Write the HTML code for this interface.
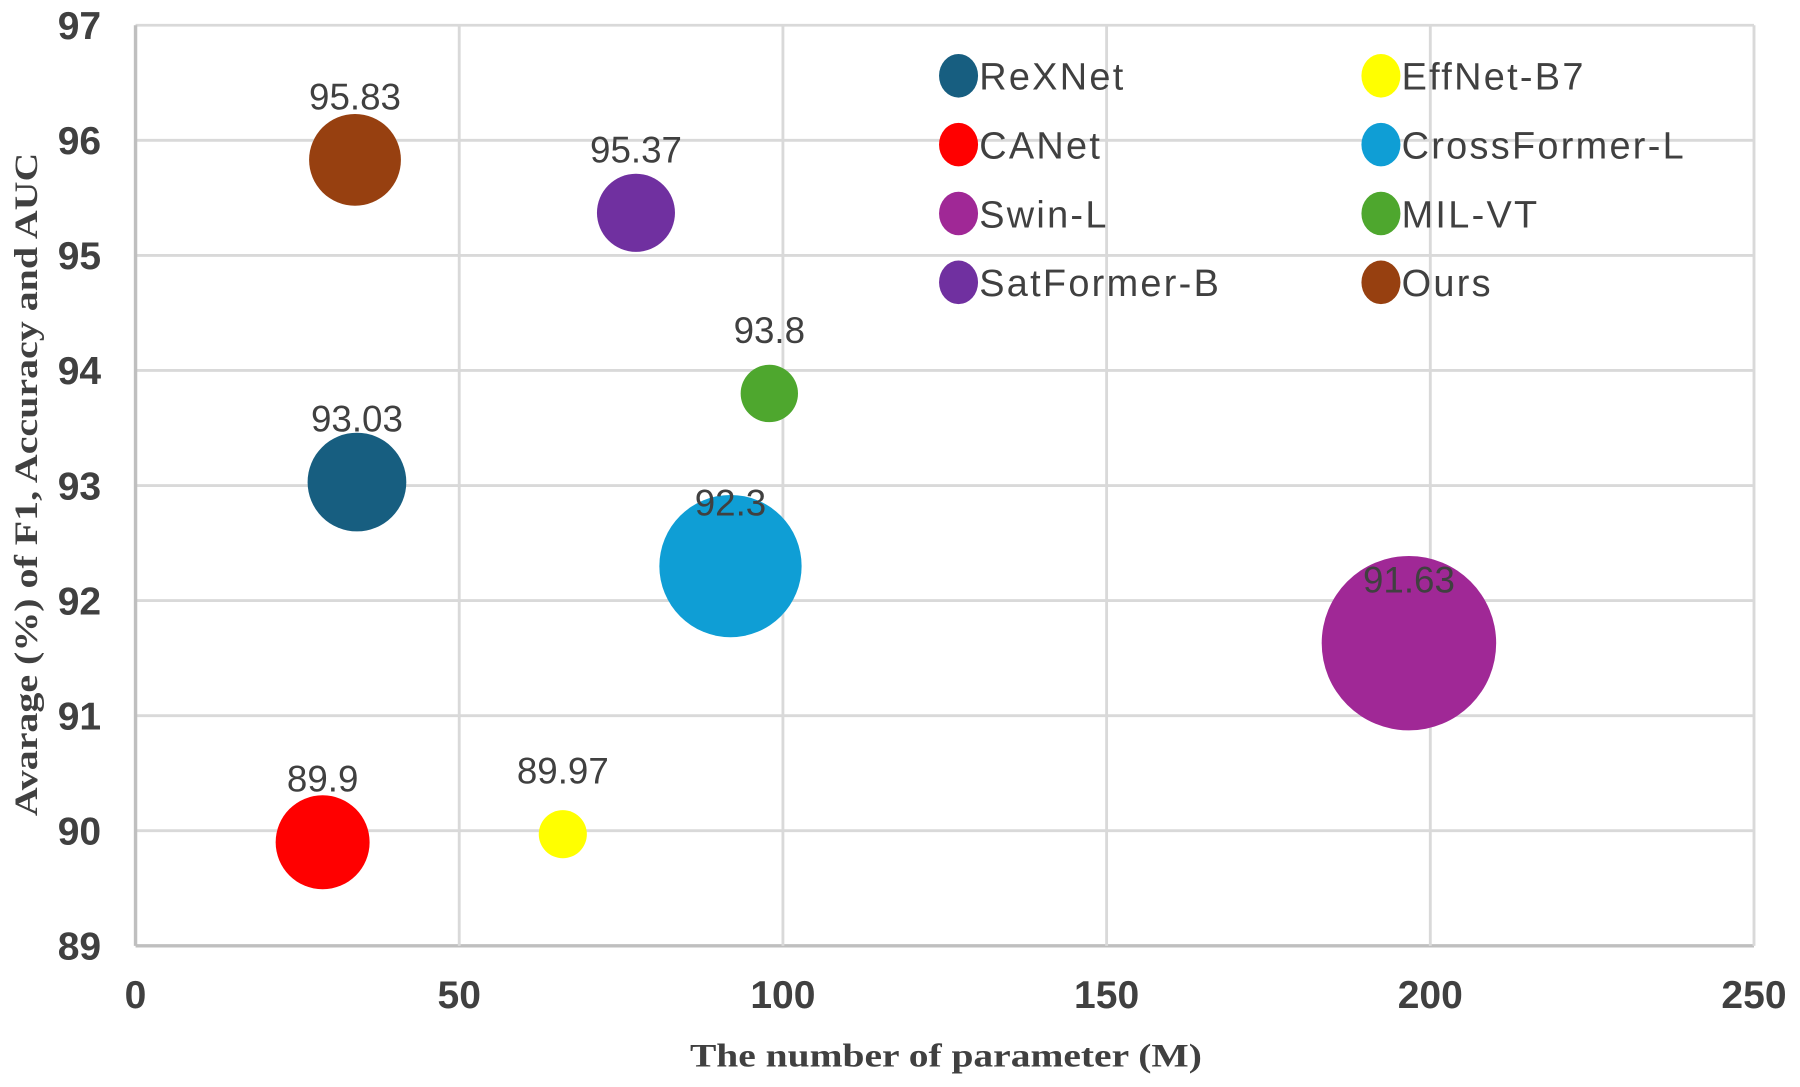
<!DOCTYPE html>
<html><head><meta charset="utf-8"><style>
html,body{margin:0;padding:0;background:#fff;}
svg{display:block;}
</style></head><body>
<svg id="chart" width="1800" height="1087" viewBox="0 0 1568 947" xmlns="http://www.w3.org/2000/svg">
<rect x="0" y="0" width="1568" height="947" fill="#fff"/>
<g id="grid"></g>
<g id="ticks"></g>
<g id="bubbles"></g>
<g id="labels"></g>
<g id="legend"></g>
<text x="824" y="929" text-anchor="middle" font-family="Liberation Serif, serif" font-weight="bold" font-size="29" textLength="446" lengthAdjust="spacingAndGlyphs" fill="#404040">The number of parameter (M)</text>
<text transform="translate(32,422) rotate(-90)" text-anchor="middle" font-family="Liberation Serif, serif" font-weight="bold" font-size="29" textLength="578" lengthAdjust="spacingAndGlyphs" fill="#404040">Avarage (%) of F1, Accuracy and AUC</text>
</svg>
<script>
const models = ["ReXNet","CANet","Swin-L","SatFormer-B","EffNet-B7","CrossFormer-L","MIL-VT","Ours"];
const params = [34.2, 28.9, 196.7, 77.3, 66, 91.9, 97.9, 33.9];
const scores = [93.03, 89.9, 91.63, 95.37, 89.97, 92.3, 93.8, 95.83];
const bubbleSizes = [32, 29, 100, 20, 7.6, 66.5, 10.8, 27.7];
const valueLabels = ["93.03","89.9","91.63","95.37","89.97","92.3","93.8","95.83"];
const colors = ["#175e80","#ff0000","#a02896","#7030a0","#ffff00","#0f9ed5","#4ea72e","#974010"];
const xTicks = [0,50,100,150,200,250];
const yTicks = [89,90,91,92,93,94,95,96,97];

const NS="http://www.w3.org/2000/svg";
const L=118,R=1528,T=22,B=824;
const xMin=0,xMax=250,yMin=89,yMax=97;
function xs(v){return L+(v-xMin)/(xMax-xMin)*(R-L);}
function ys(v){return B-(v-yMin)/(yMax-yMin)*(B-T);}
function rs(s){return 76*Math.sqrt(s/100);}
function mk(tag,attrs,parent){const e=document.createElementNS(NS,tag);for(const k in attrs)e.setAttribute(k,attrs[k]);parent.appendChild(e);return e;}

const grid=document.getElementById('grid');
yTicks.forEach(t=>{
  const ln=mk('line',{x1:L,x2:R,y1:ys(t),y2:ys(t),stroke:t===yMin?'#bfbfbf':'#d9d9d9','stroke-width':t===yMin?3:2.5},grid);
  
  
});
xTicks.forEach(t=>{
  const ln=mk('line',{x1:xs(t),x2:xs(t),y1:T,y2:B,stroke:t===xMin?'#bfbfbf':'#d9d9d9','stroke-width':t===xMin?3:2.5},grid);
  
  
});
const ticks=document.getElementById('ticks');
yTicks.forEach(t=>{
  const tx=mk('text',{x:88,y:ys(t)+12,'text-anchor':'end','font-family':'Liberation Sans, sans-serif','font-weight':'bold','font-size':34,fill:'#404040'},ticks);
  tx.textContent=t;
  
  
});
xTicks.forEach(t=>{
  const tx=mk('text',{x:xs(t),y:878,'text-anchor':'middle','font-family':'Liberation Sans, sans-serif','font-weight':'bold','font-size':34,fill:'#404040'},ticks);
  tx.textContent=t;
  
  
});
const bub=document.getElementById('bubbles');
const lab=document.getElementById('labels');
const order=[2,5,0,1,3,4,6,7];
order.forEach(i=>{
  const c=mk('circle',{cx:xs(params[i]),cy:ys(scores[i]),r:rs(bubbleSizes[i]),fill:colors[i]},bub);
  
  
});
models.forEach((m,i)=>{
  const tx=mk('text',{x:xs(params[i]),y:ys(scores[i])-44,'text-anchor':'middle','font-family':'Liberation Sans, sans-serif','font-size':32,fill:'#404040'},lab);
  tx.textContent=valueLabels[i];
  
  
});
const leg=document.getElementById('legend');
const legOrder=[0,4,1,5,2,6,3,7];
legOrder.forEach((i,k)=>{
  const col=k%2,row=Math.floor(k/2);
  const cx=col===0?835:1203,cy=66+row*60;
  const g=mk('g',{},leg);
  
  
  mk('ellipse',{cx:cx,cy:cy,rx:17,ry:19,fill:colors[i]},g);
  const tx=mk('text',{x:cx+18,y:cy+12,'font-family':'Liberation Sans, sans-serif','font-size':33,'letter-spacing':2,fill:'#404040'},g);
  tx.textContent=models[i];
});
</script>
</body></html>
